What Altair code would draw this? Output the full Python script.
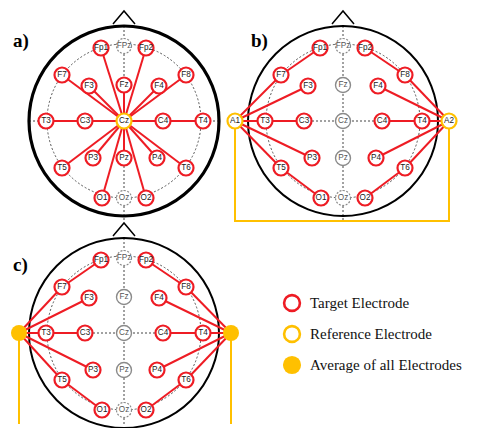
import altair as alt
import pandas as pd

# ---- data -----------------------------------------------------------------
electrodes = ["Fp1", "FPz", "Fp2", "F7", "F3", "Fz", "F4", "F8",
              "T3", "C3", "Cz", "C4", "T4",
              "T5", "P3", "Pz", "P4", "T6", "O1", "Oz", "O2"]
# scalp positions relative to the vertex (Cz), up = positive
pos_x = [-23, 0, 22, -62, -35, 0, 35, 62, -78, -39, 0, 39, 79, -62, -31, 0, 33, 62, -22, 0, 22]
pos_y = [73, 75, 73, 46, 35, 36, 35, 46, 0, 0, 0, 0, 0, -47, -37, -37, -37, -47, -77, -77, -77]

roles_a = ["target", "unused", "target", "target", "target", "target", "target", "target",
           "target", "target", "reference", "target", "target",
           "target", "target", "target", "target", "target", "target", "unused", "target"]
roles_bc = ["target", "unused", "target", "target", "target", "inactive", "target", "target",
            "target", "target", "inactive", "target", "target",
            "target", "target", "inactive", "target", "target", "target", "unused", "target"]

ear_names = ["A1", "A2"]
ear_x_b = [-108, 106]
ear_x_c = [-105, 107]

links_a = [("Cz", n) for n in ["Fp1", "Fp2", "F7", "F3", "Fz", "F4", "F8", "T3", "C3",
                                "C4", "T4", "T5", "P3", "Pz", "P4", "T6", "O1", "O2"]]
links_bc = [("A1", "F7"), ("A1", "F3"), ("A1", "T3"), ("T3", "C3"), ("A1", "P3"),
            ("A1", "T5"), ("F7", "Fp1"), ("T5", "O1"),
            ("A2", "F8"), ("A2", "F4"), ("A2", "T4"), ("T4", "C4"), ("A2", "P4"),
            ("A2", "T6"), ("F8", "Fp2"), ("T6", "O2")]

legend_labels = ["Target Electrode", "Reference Electrode", "Average of all Electrodes"]
legend_kind = ["target", "reference", "average"]
panel_labels = ["a)", "b)", "c)"]

# ---- layout ---------------------------------------------------------------
centers = {"a": (124, 117), "b": (343, 117), "c": (124, 329)}
HEAD = 95
RED = "#ee1c24"
ORANGE = "#ffc000"
GRAY = "#8a8a8a"
BOTTOM = 420

rows, segs, heads, guides, noses = [], [], [], [], []
for p in ["a", "b", "c"]:
    cx, cy = centers[p]
    roles = roles_a if p == "a" else roles_bc
    loc = {}
    for n, ox, oy, r in zip(electrodes, pos_x, pos_y, roles):
        rows.append(dict(panel=p, name=n, x=cx + ox, y=cy - oy, role=r))
        loc[n] = (cx + ox, cy - oy)
    if p != "a":
        exs = ear_x_b if p == "b" else ear_x_c
        for n, ox in zip(ear_names, exs):
            rows.append(dict(panel=p, name=n if p == "b" else "", x=cx + ox, y=cy,
                             role="reference" if p == "b" else "average"))
            loc[n] = (cx + ox, cy)
    for a_, b_ in (links_a if p == "a" else links_bc):
        segs.append(dict(panel=p, x=loc[a_][0], y=loc[a_][1], x2=loc[b_][0], y2=loc[b_][1]))
    heads.append(dict(panel=p, x=cx, y=cy, w=3.2 if p == "a" else 2.0))
    guides.append(dict(x=cx - HEAD, y=cy, x2=cx + HEAD, y2=cy))
    guides.append(dict(x=cx, y=cy - HEAD, x2=cx, y2=min(cy + HEAD + 4, BOTTOM)))
    for i, (ox, oy) in enumerate([(-11, -97), (0, -110), (11, -97)]):
        noses.append(dict(panel=p, x=cx + ox, y=cy + oy, o=i))

df = pd.DataFrame(rows)
seg_df = pd.DataFrame(segs)
head_df = pd.DataFrame(heads)
guide_df = pd.DataFrame(guides)
nose_df = pd.DataFrame(noses)

# orange connectors
bx1 = centers["b"][0] + ear_x_b[0]
bx2 = centers["b"][0] + ear_x_b[1]
by = centers["b"][1]
bracket_df = pd.DataFrame(dict(x=[bx1, bx1, bx2, bx2], y=[by, by + 100, by + 100, by], o=[0, 1, 2, 3]))
cxa, cya = centers["c"]
drop_df = pd.DataFrame(dict(x=[cxa + ear_x_c[0], cxa + ear_x_c[1]], y=[cya, cya],
                            x2=[cxa + ear_x_c[0], cxa + ear_x_c[1]], y2=[BOTTOM, BOTTOM]))

leg_df = pd.DataFrame(dict(label=legend_labels, kind=legend_kind,
                           x=[292, 292, 292], y=[299, 330, 361]))
lab_df = pd.DataFrame(dict(label=panel_labels, x=[13, 251, 13], y=[43, 43, 267]))

# ---- scales (page coordinates; the page has an 8px margin) -----------------
XS = alt.Scale(domain=[8, 469], nice=False, zero=False)
YS = alt.Scale(domain=[8, 420], nice=False, zero=False, reverse=True)


def X(f="x"):
    return alt.X(f + ":Q", scale=XS, axis=None)


def Y(f="y"):
    return alt.Y(f + ":Q", scale=YS, axis=None)


base = alt.Chart(df)

guides_l = alt.Chart(guide_df).mark_rule(color="#444", strokeWidth=1, strokeDash=[2, 2]).encode(
    x=X(), y=Y(), x2="x2:Q", y2="y2:Q")
inner = alt.Chart(head_df).mark_point(shape="circle", filled=False, size=154 ** 2, color="#555",
                                      strokeWidth=1, strokeDash=[2, 2], opacity=1).encode(x=X(), y=Y())
head_l = alt.Chart(head_df).mark_point(shape="circle", filled=False, size=190 ** 2, color="black",
                                       opacity=1).encode(x=X(), y=Y(),
                                                         strokeWidth=alt.StrokeWidth("w:Q", scale=None))
nose_l = alt.Chart(nose_df).mark_line(color="black", strokeWidth=1.5).encode(
    x=X(), y=Y(), order="o:Q", detail="panel:N")
seg_l = alt.Chart(seg_df).mark_rule(color=RED, strokeWidth=2).encode(x=X(), y=Y(), x2="x2:Q", y2="y2:Q")
bracket_l = alt.Chart(bracket_df).mark_line(color=ORANGE, strokeWidth=2).encode(x=X(), y=Y(), order="o:Q")
drop_l = alt.Chart(drop_df).mark_rule(color=ORANGE, strokeWidth=2).encode(x=X(), y=Y(), x2="x2:Q", y2="y2:Q")

ES = 225


def ring(role, color, dash=None, width=2.2):
    kw = dict(shape="circle", filled=False, size=ES, color=color, strokeWidth=width,
              fill="white", fillOpacity=1, opacity=1)
    if dash:
        kw["strokeDash"] = dash
    return base.transform_filter(alt.datum.role == role).mark_point(**kw).encode(x=X(), y=Y())


rings = [
    ring("target", RED),
    ring("reference", ORANGE),
    ring("inactive", GRAY, width=1.4),
    ring("unused", GRAY, dash=[2, 1.5], width=1.2),
    base.transform_filter(alt.datum.role == "average").mark_point(
        shape="circle", filled=True, size=256, color=ORANGE, opacity=1).encode(x=X(), y=Y()),
]

txt_dark = base.transform_filter("datum.role == 'target' || datum.role == 'reference'").mark_text(
    font="Liberation Sans", fontSize=8.2, color="#222", baseline="middle", align="center").encode(
    x=X(), y=Y(), text="name:N")
txt_gray = base.transform_filter("datum.role == 'inactive' || datum.role == 'unused'").mark_text(
    font="Liberation Sans", fontSize=8.2, color="#555", baseline="middle", align="center").encode(
    x=X(), y=Y(), text="name:N")

leg = alt.Chart(leg_df)
leg_rings = [
    leg.transform_filter(alt.datum.kind == "target").mark_point(
        shape="circle", filled=False, size=250, color=RED, strokeWidth=2.6, opacity=1).encode(x=X(), y=Y()),
    leg.transform_filter(alt.datum.kind == "reference").mark_point(
        shape="circle", filled=False, size=250, color=ORANGE, strokeWidth=2.6, opacity=1).encode(x=X(), y=Y()),
    leg.transform_filter(alt.datum.kind == "average").mark_point(
        shape="circle", filled=True, size=330, color=ORANGE, opacity=1).encode(x=X(), y=Y()),
]
leg_text = leg.mark_text(font="Liberation Serif", fontSize=15, color="#111", align="left",
                         baseline="middle", dx=18).encode(x=X(), y=Y(), text="label:N")

labels = alt.Chart(lab_df).mark_text(font="Liberation Serif", fontSize=19, fontWeight="bold",
                                     color="black", align="left", baseline="alphabetic").encode(
    x=X(), y=Y(), text="label:N")

chart = alt.layer(
    guides_l, inner, head_l, nose_l, seg_l, bracket_l, drop_l, *rings, txt_dark, txt_gray,
    *leg_rings, leg_text, labels
).properties(width=461, height=412, padding=0).configure_view(stroke=None)

chart.save("out.html", embed_options={"renderer": "svg", "actions": False})
